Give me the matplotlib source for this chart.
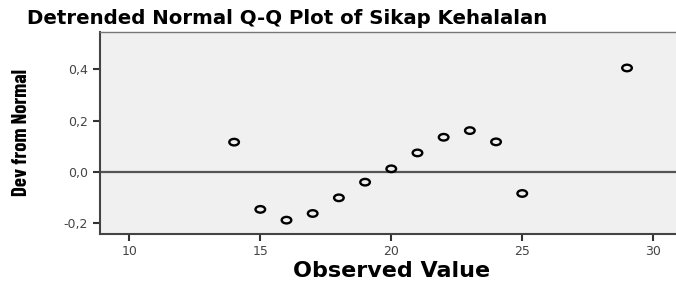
import matplotlib
matplotlib.use("Agg")
import matplotlib.pyplot as plt
import numpy as np
from matplotlib.path import Path
from matplotlib.transforms import Affine2D
from matplotlib.ticker import FuncFormatter

observed = [14, 15, 16, 17, 18, 19, 20, 21, 22, 23, 24, 25, 29]
dev_from_normal = [0.116, -0.146, -0.188, -0.162, -0.101, -0.040, 0.012,
                   0.074, 0.135, 0.161, 0.117, -0.084, 0.405]
x_ticks = [10, 15, 20, 25, 30]
y_ticks = [-0.2, 0.0, 0.2, 0.4]

title = "Detrended Normal Q-Q Plot of Sikap Kehalalan"
xlabel = "Observed Value"
ylabel = "Dev from Normal"

fig = plt.figure(figsize=(6.76, 2.86), dpi=100)
ax = fig.add_axes([100/676, 52.5/286, 576/676, 201.2/286])
ax.set_facecolor("#f0f0f0")

ellipse = Path.unit_circle().transformed(Affine2D().scale(1.0, 0.68))
ax.axhline(0, color="#555555", lw=1.6, zorder=1)
ax.scatter(observed, dev_from_normal, marker=ellipse, s=48, facecolors="none",
           edgecolors="black", linewidths=1.7, zorder=3)

ax.set_xlim(8.88, 30.87)
ax.set_ylim(-0.240, 0.544)
ax.set_xticks(x_ticks)
ax.set_yticks(y_ticks)
ax.yaxis.set_major_formatter(FuncFormatter(lambda v, p: f"{v:.1f}".replace(".", ",")))
ax.tick_params(axis="both", direction="out", length=5, width=1.5, color="#333333",
               labelsize=9, labelcolor="#444444")
for s in ["left", "bottom", "top"]:
    ax.spines[s].set_color("#444444")
    ax.spines[s].set_linewidth(1.5)
ax.spines["top"].set_color("#777777")
ax.spines["top"].set_linewidth(1.0)
ax.spines["right"].set_visible(False)

fig.text(27/676, 1 - 18/286, title, fontsize=14.2, fontweight="bold",
         ha="left", va="center", family="DejaVu Sans")
fig.text(392/676, 1 - 271/286, xlabel, fontsize=16, fontweight="bold",
         ha="center", va="center", family="DejaVu Sans")
fig.text(22/676, 1 - 132/286, ylabel, fontsize=15, fontweight="bold", rotation=90,
         ha="center", va="center", family=["Barlow Condensed", "DejaVu Sans"])

fig.savefig("out.png", dpi=100, facecolor="white")
